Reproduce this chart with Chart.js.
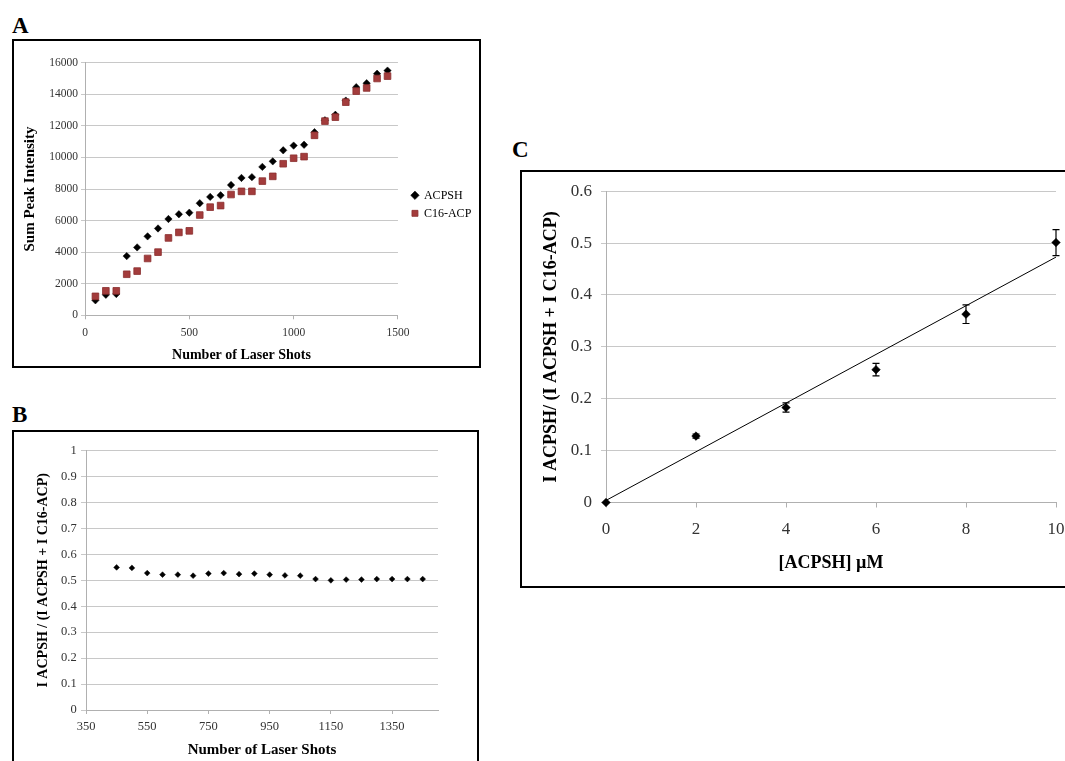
<!DOCTYPE html>
<html><head><meta charset="utf-8">
<script src="https://cdn.jsdelivr.net/npm/chart.js@4.4.0/dist/chart.umd.min.js"></script>
<style>
html,body{margin:0;padding:0;background:#fff;overflow:hidden;width:1065px;height:761px;}
.frame{position:absolute;border:2px solid #000;box-sizing:border-box;}
.lbl{position:absolute;font-family:'Liberation Serif','Times New Roman',serif;font-weight:bold;font-size:23px;line-height:23px;color:#000;}
canvas{position:absolute;}
</style></head><body>
<div class="lbl" style="left:12px;top:14px">A</div>
<div class="lbl" style="left:12px;top:403px">B</div>
<div class="lbl" style="left:512px;top:138px">C</div>
<div class="frame" style="left:12px;top:39px;width:469px;height:329px"></div>
<div class="frame" style="left:12px;top:430px;width:467px;height:340px"></div>
<div class="frame" style="left:520px;top:170px;width:560px;height:418px"></div>
<canvas id="cA" width="465" height="325" style="left:14px;top:41px"></canvas>
<canvas id="cB" width="463" height="336" style="left:14px;top:432px"></canvas>
<canvas id="cC" width="556" height="414" style="left:522px;top:172px"></canvas>
<script>
// ---------- Panel A data ----------
const shotsA = [50,100,150,200,250,300,350,400,450,500,550,600,650,700,750,800,850,900,950,1000,1050,1100,1150,1200,1250,1300,1350,1400,1450];
const acpshA = [950,1300,1350,3750,4300,5000,5500,6100,6400,6500,7100,7500,7600,8250,8700,8750,9400,9750,10450,10750,10800,11600,12350,12700,13600,14450,14700,15300,15500];
const c16A   = [1200,1550,1550,2600,2800,3600,4000,4900,5250,5350,6350,6850,6950,7650,7850,7850,8500,8800,9600,9950,10050,11400,12300,12550,13500,14200,14400,15000,15150];
const xTicksA = [0,500,1000,1500];
const yTicksA = [0,2000,4000,6000,8000,10000,12000,14000,16000];

// ---------- Panel B data ----------
const shotsB = [450,500,550,600,650,700,750,800,850,900,950,1000,1050,1100,1150,1200,1250,1300,1350,1400,1450];
const ratioB = [0.550,0.548,0.528,0.522,0.522,0.518,0.526,0.528,0.524,0.526,0.522,0.519,0.518,0.505,0.500,0.503,0.503,0.505,0.505,0.505,0.505];
const xTicksB = [350,550,750,950,1150,1350];
const yTicksB = [0,0.1,0.2,0.3,0.4,0.5,0.6,0.7,0.8,0.9,1];

// ---------- Panel C data ----------
const concC  = [0,2,4,6,8,10];
const ratioC = [0,0.128,0.183,0.256,0.363,0.501];
const errC   = [0,0.004,0.009,0.012,0.018,0.025];
const trendX = [0,10];
const trendY = [0.004,0.473];
const xTicksC = [0,2,4,6,8,10];
const yTicksC = [0,0.1,0.2,0.3,0.4,0.5,0.6];

const FONT = "'Liberation Serif','Times New Roman',serif";
Chart.defaults.font.family = FONT;
Chart.defaults.animation = false;
const TICK = '#333333', GRID = '#c8c8c8', AXIS = '#b0b0b0';

function pts(xs, ys){ return xs.map((x,i)=>({x:x, y:ys[i]})); }
function fixedTicks(arr){ return s => { s.ticks = arr.map(v=>({value:v})); }; }

function xAxis(o){
  return { type:'linear', min:o.min, max:o.max,
    afterBuildTicks: fixedTicks(o.ticks), afterFit: s => { s.height = o.h; },
    ticks:{autoSkip:false, maxRotation:0, padding:o.pad, color:TICK, font:{size:o.fs}, callback:v=>String(v)},
    grid:{drawOnChartArea:false, drawTicks:true, tickLength:o.tl, color:AXIS},
    border:{display:true, color:AXIS},
    title:{display:true, text:o.title, color:'#000', font:{size:o.tfs, weight:'bold'}, padding:{top:0,bottom:o.tpad}} };
}
function yAxis(o){
  return { type:'linear', min:o.min, max:o.max,
    afterBuildTicks: fixedTicks(o.ticks), afterFit: s => { s.width = o.w; },
    ticks:{autoSkip:false, padding:o.pad, color:TICK, font:{size:o.fs}, callback:v=>String(v)},
    grid:{drawTicks:true, tickLength:o.tl, color:GRID},
    border:{display:true, color:AXIS},
    title:{display:true, text:o.title, color:'#000', font:{size:o.tfs, weight:'bold'}, padding:{top:o.tpad,bottom:0}} };
}

const legendShift = { id:'legendShift', afterLayout(chart, args, opts){
  const l = chart.legend; if(!l) return;
  l.left += opts.dx||0; l.right += opts.dx||0; l.top += opts.dy||0; l.bottom += opts.dy||0;
}};

// ---------- Chart A ----------
new Chart(document.getElementById('cA'), {
  type:'scatter',
  data:{ datasets:[
    { label:'ACPSH', data:pts(shotsA, acpshA), pointStyle:'rectRot', pointRadius:3.7, backgroundColor:'#000', borderColor:'#000', borderWidth:0.5, order:1 },
    { label:'C16-ACP', data:pts(shotsA, c16A), pointStyle:'rect', pointRadius:4.7, backgroundColor:'#a33c3c', borderColor:'#8a2e2e', borderWidth:0.8, order:0 }
  ]},
  options:{
    responsive:false, animation:false, events:[],
    layout:{padding:{left:0, top:21.7, right:5.7, bottom:0}},
    plugins:{
      legend:{ position:'right', labels:{ usePointStyle:true, boxWidth:6, boxHeight:6, padding:6, color:'#000', font:{size:12}, sort:(a,b)=>a.datasetIndex-b.datasetIndex } },
      tooltip:{enabled:false},
      legendShift:{dx:8, dy:-10}
    },
    scales:{
      x: xAxis({min:0, max:1500, ticks:xTicksA, h:50.7, pad:7, tl:4, fs:11.5, title:'Number of Laser Shots', tfs:14, tpad:2.6}),
      y: yAxis({min:0, max:16000, ticks:yTicksA, w:71, pad:3, tl:4, fs:11.5, title:'Sum Peak Intensity', tfs:15, tpad:7})
    }
  },
  plugins:[legendShift]
});

// ---------- Chart B ----------
new Chart(document.getElementById('cB'), {
  type:'scatter',
  data:{ datasets:[
    { label:'ratio', data:pts(shotsB, ratioB), pointStyle:'rectRot', pointRadius:2.9, backgroundColor:'#000', borderColor:'#000', borderWidth:0.5 }
  ]},
  options:{
    responsive:false, animation:false, events:[],
    layout:{padding:{left:0, top:18.7, right:39, bottom:0}},
    plugins:{ legend:{display:false}, tooltip:{enabled:false} },
    scales:{
      x: xAxis({min:350, max:1500, ticks:xTicksB, h:58, pad:5.5, tl:4, fs:12.5, title:'Number of Laser Shots', tfs:15, tpad:9}),
      y: yAxis({min:0, max:1, ticks:yTicksB, w:72, pad:4.3, tl:5, fs:12.5, title:'I ACPSH / (I ACPSH + I C16-ACP)', tfs:14, tpad:21})
    }
  }
});

// ---------- Chart C ----------
const errorBars = { id:'errorBars', beforeDatasetDraw(chart, args){
  if (args.index !== 0) return;
  const ctx = chart.ctx, x = chart.scales.x, y = chart.scales.y;
  ctx.save(); ctx.strokeStyle = '#000'; ctx.lineWidth = 1.2;
  concC.forEach((c,i)=>{
    const e = errC[i]; if (!e) return;
    const px = x.getPixelForValue(c);
    const top = y.getPixelForValue(ratioC[i]+e), bot = y.getPixelForValue(ratioC[i]-e);
    ctx.beginPath();
    ctx.moveTo(px, top); ctx.lineTo(px, bot);
    ctx.moveTo(px-3.5, top); ctx.lineTo(px+3.5, top);
    ctx.moveTo(px-3.5, bot); ctx.lineTo(px+3.5, bot);
    ctx.stroke();
  });
  ctx.restore();
}};

new Chart(document.getElementById('cC'), {
  type:'scatter',
  data:{ datasets:[
    { label:'data', data:pts(concC, ratioC), pointStyle:'rectRot', pointRadius:4.3, backgroundColor:'#000', borderColor:'#000', borderWidth:0.5, clip:false },
    { label:'trend', data:pts(trendX, trendY), showLine:true, pointRadius:0, borderColor:'#000', borderWidth:1, fill:false }
  ]},
  options:{
    responsive:false, animation:false, events:[],
    layout:{padding:{left:0, top:12.3, right:22, bottom:0}},
    plugins:{ legend:{display:false}, tooltip:{enabled:false} },
    scales:{
      x: xAxis({min:0, max:10, ticks:xTicksC, h:83.5, pad:12, tl:5, fs:17, title:'[ACPSH] µM', tfs:18, tpad:12.2}),
      y: yAxis({min:0, max:0.6, ticks:yTicksC, w:84, pad:9, tl:5, fs:17, title:'I ACPSH/ (I ACPSH + I C16-ACP)', tfs:18, tpad:18.2})
    }
  },
  plugins:[errorBars]
});
</script>
</body></html>
